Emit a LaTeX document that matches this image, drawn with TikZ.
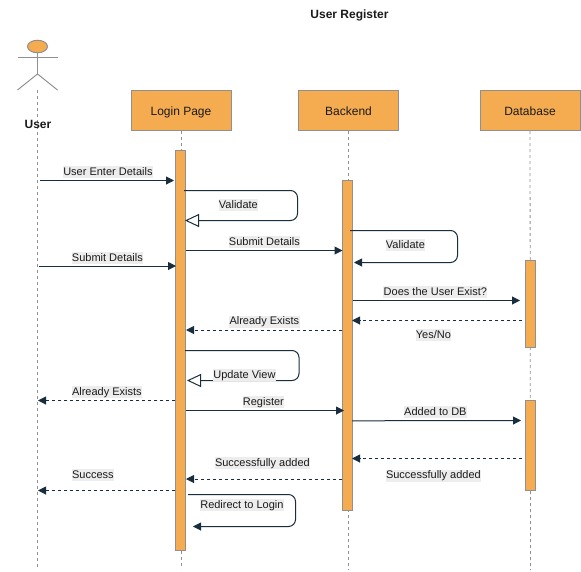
\documentclass[tikz,border=0pt]{standalone}
\usepackage{fontspec}
\setmainfont{Liberation Sans}
\usetikzlibrary{arrows.meta, shapes.geometric}
\definecolor{boxfill}{HTML}{F5AB50}
\definecolor{boxline}{HTML}{909090}
\definecolor{msgline}{HTML}{182E3E}
\definecolor{txtcol}{HTML}{1A1A1A}
\definecolor{lblfill}{HTML}{EDEDED}

\begin{document}
\begin{tikzpicture}[x = 1pt, y = -1pt, line width = 1pt, text = txtcol,
                        every node/.style = {font = \fontsize{11}{13}\selectfont},
                        party/.style = {rectangle, draw = boxline, fill = boxfill, minimum width = 100pt, minimum height = 40pt, inner sep = 0pt, font = \fontsize{12}{14}\selectfont, text height = 11pt, text depth = 2pt},
                        bar/.style = {rectangle, draw = boxline, fill = boxfill, minimum width = 10pt, inner sep = 0pt},
                        life/.style = {draw = boxline, dash pattern = on 3pt off 3pt, line width = 0.8pt},
                        limb/.style = {draw = boxline},
                        msg/.style = {draw = msgline, -{Triangle[length = 8pt, width = 8pt]}},
                        reply/.style = {draw = msgline, dash pattern = on 3pt off 3pt, -{Triangle[length = 8pt, width = 8pt]}},
                        selfopen/.style = {draw = msgline, rounded corners = 7pt, -{Triangle[open, fill = white, length = 14pt, width = 13pt]}},
                        selfmsg/.style = {draw = msgline, rounded corners = 7pt, -{Triangle[length = 8pt, width = 8pt]}},
                        lbl/.style = {fill = lblfill, inner xsep = 0.3pt, inner ysep = 0pt, text height = 9pt, text depth = 3pt, xshift = 0.4pt, yshift = -1.3pt},
                        title/.style = {font = \fontsize{12}{14}\selectfont\bfseries, text height = 9pt, text depth = 3pt, inner ysep = 0pt}]
      \useasboundingbox (0, 0) rectangle (581, 571);

      % parties
      \node [party] (login) at (181, 110.5){Login Page};
      \node [party] (back) at (348.5, 110.5){Backend};
      \node [party] (data) at (530, 110.5){Database};
      \coordinate (userTop) at (37.5, 90);
      \coordinate (userEnd) at (37.5, 568);
      \coordinate (loginEnd) at (181, 569);
      \coordinate (backEnd) at (348.5, 570);
      \coordinate (dataEnd) at (530.5, 570);

      % lifelines
      \draw [life] (userTop) -- (userEnd);
      \draw [life] (login) -- (loginEnd);
      \draw [life] (back) -- (backEnd);
      \draw [life] (data) -- (dataEnd);

      % actor
      \node [ellipse, draw = boxline, fill = boxfill, minimum width = 20pt, minimum height = 12.5pt, inner sep = 0pt] (head) at (37.5, 46.5){};
      \coordinate (armL) at (17.5, 57);
      \coordinate (armR) at (57.5, 57);
      \coordinate (hip) at (37.5, 74);
      \coordinate (legL) at (17.5, 90);
      \coordinate (legR) at (57.5, 90);
      \draw [limb] (head) -- (hip);
      \draw [limb] (armL) -- (armR);
      \draw [limb] (legL) -- (hip) -- (legR);
      \node [title] (user) at (38, 125){User};
      \node [title] (heading) at (349.5, 15.3){User Register};

      % activation bars
      \node [bar, minimum height = 399.5pt] (loginBar) at (180.5, 350.25){};
      \node [bar, minimum height = 330pt] (backBar) at (347.5, 345.5){};
      \node [bar, minimum height = 87pt] (dataBarA) at (530.5, 304){};
      \node [bar, minimum height = 90pt] (dataBarB) at (530.5, 445.5){};

      % message ends
      \coordinate (m1a) at (40, 180.5);
      \coordinate (m1b) at (174, 180.5);
      \coordinate (v1a) at (184, 190.5);
      \coordinate (v1c) at (297.5, 205);
      \coordinate (v1b) at (185, 220.5);
      \coordinate (m2a) at (186, 250.5);
      \coordinate (m2b) at (342.5, 250.5);
      \coordinate (m3a) at (39, 266);
      \coordinate (m3b) at (176, 266);
      \coordinate (v2a) at (350, 230.5);
      \coordinate (v2c) at (457.5, 246);
      \coordinate (v2b) at (354, 262.5);
      \coordinate (m4a) at (353, 300.5);
      \coordinate (m4b) at (520, 300.5);
      \coordinate (r1a) at (522, 320.5);
      \coordinate (r1b) at (352, 320.5);
      \coordinate (r2a) at (342, 330);
      \coordinate (r2b) at (186, 330);
      \coordinate (v3a) at (185, 350.5);
      \coordinate (v3c) at (299, 365);
      \coordinate (v3b) at (187, 380.5);
      \coordinate (r3a) at (175, 400.5);
      \coordinate (r3b) at (38, 400.5);
      \coordinate (m5a) at (186, 410.5);
      \coordinate (m5b) at (344, 410.5);
      \coordinate (m6a) at (352, 420.8);
      \coordinate (m6b) at (521, 420.5);
      \coordinate (r4a) at (522, 458.5);
      \coordinate (r4b) at (352, 458.5);
      \coordinate (r5a) at (342, 479);
      \coordinate (r5b) at (186, 479);
      \coordinate (r6a) at (175, 490.5);
      \coordinate (r6b) at (38, 490.5);
      \coordinate (v4a) at (188, 494.5);
      \coordinate (v4c) at (295.5, 510);
      \coordinate (v4b) at (193, 526.5);

      % messages
      \draw [msg] (m1a) -- (m1b);
      \draw [selfopen] (v1a) -| (v1c) |- (v1b);
      \draw [msg] (m2a) -- (m2b);
      \draw [msg] (m3a) -- (m3b);
      \draw [selfmsg] (v2a) -| (v2c) |- (v2b);
      \draw [msg] (m4a) -- (m4b);
      \draw [reply] (r1a) -- (r1b);
      \draw [reply] (r2a) -- (r2b);
      \draw [selfopen] (v3a) -| (v3c) |- (v3b);
      \draw [reply] (r3a) -- (r3b);
      \draw [msg] (m5a) -- (m5b);
      \draw [msg] (m6a) -- (m6b);
      \draw [reply] (r4a) -- (r4b);
      \draw [reply] (r5a) -- (r5b);
      \draw [reply] (r6a) -- (r6b);
      \draw [selfmsg] (v4a) -| (v4c) |- (v4b);

      % labels
      \node [lbl] (l1) at (107.5, 171){User Enter Details};
      \node [lbl] (l2) at (238, 204){Validate};
      \node [lbl] (l3) at (264, 241){Submit Details};
      \node [lbl] (l4) at (107, 257){Submit Details};
      \node [lbl] (l5) at (405, 244){Validate};
      \node [lbl] (l6) at (435, 291){Does the User Exist?};
      \node [lbl] (l7) at (433, 334){Yes/No};
      \node [lbl] (l8) at (264, 320.5){Already Exists};
      \node [lbl] (l9) at (244, 374){Update View};
      \node [lbl] (l10) at (106.5, 391){Already Exists};
      \node [lbl] (l11) at (263, 401){Register};
      \node [lbl] (l12) at (435, 411){Added to DB};
      \node [lbl] (l13) at (433, 474.5){Successfully added};
      \node [lbl] (l14) at (262, 462){Successfully added};
      \node [lbl] (l15) at (92.5, 474){Success};
      \node [lbl] (l16) at (241.5, 504){Redirect to Login};
    \end{tikzpicture}
\end{document}
